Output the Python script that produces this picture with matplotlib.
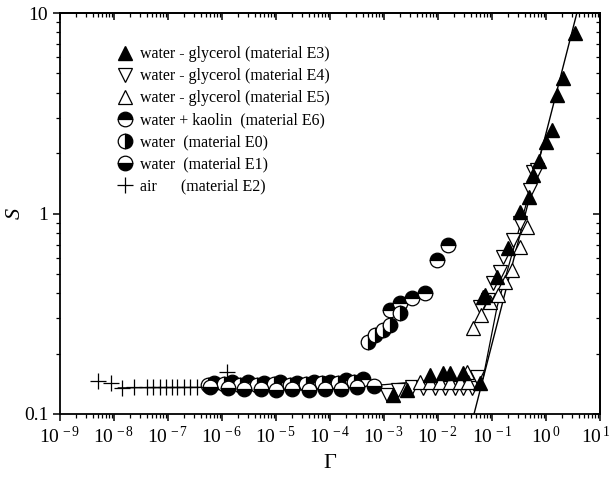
import numpy as np
import matplotlib
matplotlib.use("Agg")
import matplotlib.pyplot as plt
import matplotlib.transforms as mtransforms
from matplotlib.ticker import LogLocator, FixedLocator, FixedFormatter, NullFormatter

plt.rcParams['font.family'] = ['Liberation Serif', 'DejaVu Serif']
plt.rcParams['mathtext.fontset'] = 'custom'
plt.rcParams['mathtext.rm'] = 'Liberation Serif'
plt.rcParams['mathtext.it'] = 'Liberation Serif:italic'

# ---------------- data ----------------
# water - glycerol E3 (filled up triangles)
g_E3 = [1.47e-3, 2.67e-3, 7.1e-3, 0.0124, 0.0168, 0.029, 0.060, 0.068, 0.074,
        0.124, 0.198, 0.331, 0.484, 0.575, 0.74, 1.0, 1.29, 1.60, 2.07, 3.44]
s_E3 = [0.124, 0.132, 0.156, 0.160, 0.160, 0.160, 0.143, 0.383, 0.392,
        0.482, 0.673, 1.02, 1.21, 1.56, 1.83, 2.27, 2.61, 3.90, 4.74, 7.94]

# water - glycerol E4 (open down triangles)
g_E4 = [1.14e-3, 1.82e-3, 3.3e-3, 5.3e-3, 8.8e-3, 0.0135, 0.0207, 0.029, 0.043,
        0.0527, 0.060, 0.0843, 0.1045, 0.141, 0.16, 0.245, 0.33, 0.506, 0.574, 0.68]
s_E4 = [0.124, 0.132, 0.136, 0.135, 0.135, 0.135, 0.135, 0.135, 0.135,
        0.153, 0.342, 0.371, 0.45, 0.51, 0.607, 0.738, 0.897, 1.31, 1.61, 1.65]

# water - glycerol E5 (open up triangles)
g_E5 = [4.6e-3, 7.1e-3, 0.0109, 0.0167, 0.0255, 0.035, 0.036, 0.0445, 0.0625,
        0.092, 0.129, 0.174, 0.234, 0.33, 0.445]
s_E5 = [0.145, 0.145, 0.145, 0.145, 0.145, 0.162, 0.145, 0.268, 0.312,
        0.362, 0.392, 0.455, 0.523, 0.681, 0.857]

# water + kaolin E6 (top half black)
g_E6 = [7e-7, 1.5e-6, 3e-6, 6e-6, 1.2e-5, 2.4e-5, 5e-5, 1e-4, 2e-4, 4e-4,
        1.29e-3, 1.98e-3, 3.3e-3, 5.7e-3, 9.6e-3, 0.0153]
s_E6 = [0.143, 0.145, 0.144, 0.143, 0.144, 0.143, 0.144, 0.145, 0.147, 0.150,
        0.330, 0.358, 0.379, 0.401, 0.586, 0.697]

# water E0 (right half black)
g_E0 = [5.5e-7, 1.1e-6, 2.2e-6, 4.5e-6, 9e-6, 1.8e-5, 3.6e-5, 7e-5, 1.4e-4,
        2.8e-4, 5.06e-4, 6.8e-4, 9.55e-4, 1.29e-3, 1.98e-3]
s_E0 = [0.140, 0.141, 0.139, 0.140, 0.141, 0.140, 0.141, 0.142, 0.143,
        0.144, 0.229, 0.248, 0.262, 0.278, 0.319]

# water E1 (bottom half black)
g_E1 = [6e-7, 1.3e-6, 2.6e-6, 5.2e-6, 1e-5, 2e-5, 4e-5, 8e-5, 1.6e-4, 3.2e-4, 6.5e-4]
s_E1 = [0.137, 0.135, 0.133, 0.134, 0.132, 0.133, 0.132, 0.133, 0.134, 0.136, 0.138]

# air E2 (plus)
g_E2 = [5.0e-9, 8.8e-9, 1.4e-8, 2.35e-8, 4.1e-8, 5.2e-8, 7.1e-8, 9.1e-8,
        1.17e-7, 1.48e-7, 2.0e-7, 2.6e-7, 3.5e-7, 1.23e-6]
s_E2 = [0.146, 0.143, 0.135, 0.136, 0.136, 0.136, 0.136, 0.136,
        0.136, 0.136, 0.136, 0.137, 0.137, 0.162]

# power law fit  S = a * G^n
fit_a = 2.51
fit_n = 1.05
fit_G = [0.045, 3.9]

# plateau branch
plat_G = [1.2e-8, 1e-6, 1e-4, 1e-3, 1e-2, 0.068, 0.124, 0.88]
plat_S = [0.135, 0.136, 0.138, 0.140, 0.148, 0.150, 0.342, 2.2]

xticks = [10.0**k for k in range(-9, 2)]
xlabels = [r'$10^{\,%d}$' % k for k in range(-9, 2)]
yticks = [0.1, 1, 10]
ylabels = ['0.1', '1', '10']

# ---------------- plot ----------------
fig = plt.figure(figsize=(6.13, 4.79), dpi=100)
ax = fig.add_axes([60/613, 65/479, 540/613, 401/479])

gl = np.logspace(np.log10(fit_G[0]), np.log10(fit_G[1]), 50)
ax.plot(gl, fit_a * gl**fit_n, color='black', lw=1.0, zorder=1)
ax.plot(plat_G, plat_S, color='black', lw=0.9, zorder=1)

ms = 10.5
ax.plot(g_E3, s_E3, '^', ms=ms, mfc='black', mec='black', ls='none',
        label='water - glycerol (material E3)', zorder=3)
ax.plot(g_E4, s_E4, 'v', ms=ms, mfc='white', mec='black', mew=0.9, ls='none',
        label='water - glycerol (material E4)', zorder=2)
ax.plot(g_E5, s_E5, '^', ms=ms, mfc='white', mec='black', mew=0.9, ls='none',
        label='water - glycerol (material E5)', zorder=2)
ax.plot(g_E6, s_E6, 'o', ms=ms, fillstyle='top', mfc='black', mfcalt='white',
        mec='black', mew=0.9, ls='none', label='water + kaolin  (material E6)', zorder=2)
ax.plot(g_E0, s_E0, 'o', ms=ms, fillstyle='right', mfc='black', mfcalt='white',
        mec='black', mew=0.9, ls='none', label='water  (material E0)', zorder=2)
ax.plot(g_E1, s_E1, 'o', ms=ms, fillstyle='bottom', mfc='black', mfcalt='white',
        mec='black', mew=0.9, ls='none', label='water  (material E1)', zorder=2)
ax.plot(g_E2, s_E2, '+', ms=11, mec='black', mew=0.9, ls='none',
        label='air      (material E2)', zorder=2)

ax.set_xscale('log')
ax.set_yscale('log')
ax.set_xlim(1e-9, 1e1)
ax.set_ylim(0.1, 10)

ax.xaxis.set_major_locator(FixedLocator(xticks))
ax.xaxis.set_major_formatter(FixedFormatter(xlabels))
ax.xaxis.set_minor_locator(LogLocator(base=10, subs=np.arange(2, 10), numticks=100))
ax.xaxis.set_minor_formatter(NullFormatter())
ax.yaxis.set_major_locator(FixedLocator(yticks))
ax.yaxis.set_major_formatter(FixedFormatter(ylabels))
ax.yaxis.set_minor_locator(LogLocator(base=10, subs=np.arange(2, 10), numticks=100))
ax.yaxis.set_minor_formatter(NullFormatter())

for sp in ax.spines.values():
    sp.set_linewidth(1.3)
ax.tick_params(which='major', direction='out', length=5, width=1.1, labelsize=14)
ax.tick_params(which='minor', direction='out', length=3, width=0.9)

# top and right axes: ticks pointing inward
top = ax.secondary_xaxis('top')
top.xaxis.set_major_locator(FixedLocator(xticks))
top.xaxis.set_minor_locator(LogLocator(base=10, subs=np.arange(2, 10), numticks=100))
top.tick_params(which='major', direction='in', length=5, width=1.1, labeltop=False)
top.tick_params(which='minor', direction='in', length=3, width=0.9)
right = ax.secondary_yaxis('right')
right.yaxis.set_major_locator(FixedLocator(yticks))
right.yaxis.set_minor_locator(LogLocator(base=10, subs=np.arange(2, 10), numticks=100))
right.tick_params(which='major', direction='in', length=5, width=1.1, labelright=False)
right.tick_params(which='minor', direction='in', length=3, width=0.9)
top.spines['top'].set_linewidth(1.3)
right.spines['right'].set_linewidth(1.3)

ax.set_xlabel('Γ', fontsize=16, labelpad=5)
ax.set_ylabel('S', fontsize=16, style='italic', labelpad=-1)

ax.legend(loc='upper left', bbox_to_anchor=(0.09, 0.933), frameon=False,
          fontsize=11.5, handletextpad=0.35, labelspacing=0.38, borderaxespad=0,
          handlelength=1.2)

# pull the last x label in a little so it stays inside the figure
fig.canvas.draw()
last = ax.xaxis.get_major_ticks()[-1].label1
last.set_transform(last.get_transform() +
                   mtransforms.ScaledTranslation(-4/100, 0, fig.dpi_scale_trans))

fig.savefig('out.png', dpi=100)
